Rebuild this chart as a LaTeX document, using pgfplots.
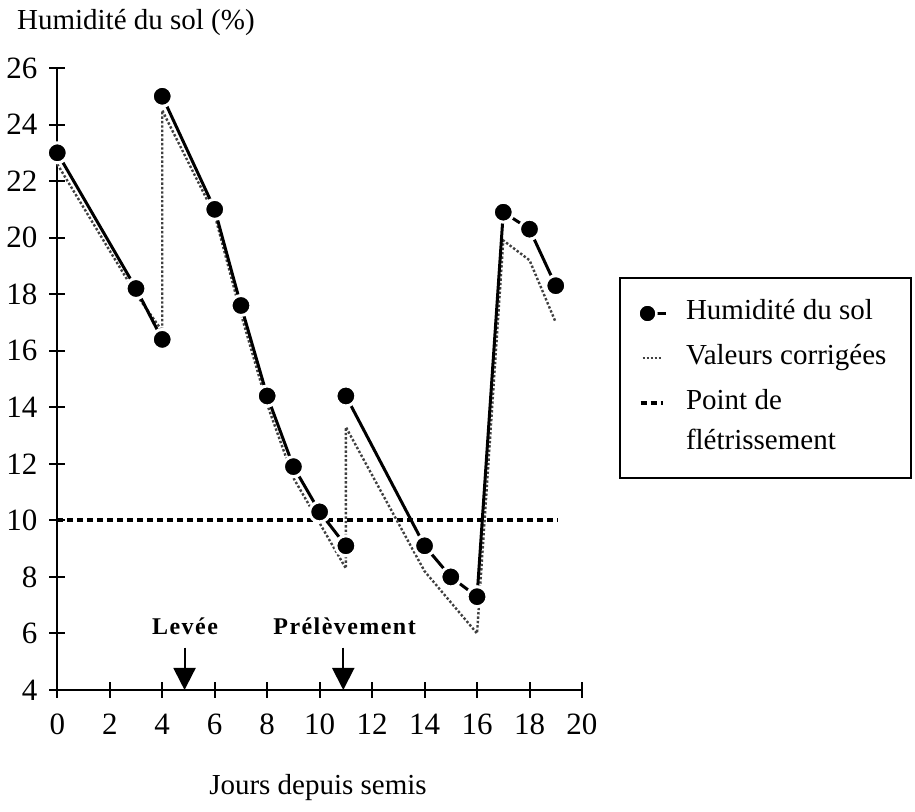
\documentclass[border=0pt]{standalone}
\usepackage{fontspec}
\setmainfont{Liberation Serif}
\newfontfamily\annot[LetterSpace=6]{Liberation Serif}
\usepackage{pgfplots}
\pgfplotsset{compat=1.18}
\usetikzlibrary{arrows.meta}

\newcommand{\txt}{\fontsize{14.5}{20}\selectfont}
\newcommand{\ticktxt}{\fontsize{15.5}{18}\selectfont}

\pgfplotsset{
  humimg/.style={legend image code/.code={%
      \draw[##1,mark=none] (0pt,0pt) -- (9pt,0pt);
      \draw[##1] plot coordinates {(0pt,0pt)};}},
  dotimg/.style={legend image code/.code={%
      \draw[##1] (-2.5pt,0pt) -- (7.5pt,0pt);}},
  dashimg/.style={legend image code/.code={%
      \draw[##1] (-3.5pt,0pt) -- (7.5pt,0pt);}},
}

\begin{document}
\begin{tikzpicture}
\path[use as bounding box] (-28.65pt,-61pt) rectangle (428.85pt,345pt);
\begin{axis}[
  at={(0pt,0pt)}, anchor=south west,
  scale only axis, width=262.35pt, height=311pt,
  xmin=0, xmax=20, ymin=4, ymax=26,
  axis x line*=bottom, axis y line*=left,
  xtick={0,2,...,20}, ytick={4,6,...,26},
  tick align=center, major tick length=8pt,
  axis line style={line width=1pt},
  every tick/.style={black, line width=1pt},
  tick label style={font=\ticktxt},
  /pgf/number format/assume math mode=true,
  xticklabel style={yshift=-4.6pt},
  yticklabel style={xshift=-2.4pt},
  clip=false,
  legend cell align=left,
  legend style={draw=none, fill=none, inner sep=0pt, outer sep=0pt,
    at={(1.1077,0.627)}, anchor=north west, font=\txt,
    row sep=9pt, column sep=9.5pt,
    nodes={inner sep=0pt, text height=10pt, text depth=3.5pt}},
]
% wilting point
\addplot[forget plot, black, line width=2pt, dash pattern=on 3pt off 2pt]
  coordinates {(0,10) (19.1,10)};
% corrected values
\addplot[forget plot, black!75, line width=1.2pt, densely dotted]
  coordinates {(0,22.6) (3,18.0) (4,16.7) (4,24.5) (6,20.8) (7,17.3) (8,14.1)
               (9,11.5) (10,9.9) (11,8.3) (11,13.3) (14,8.2) (15,7.1) (16,6.0)
               (17,19.9) (18,19.2) (19,17.0)};
% measured soil moisture
\addplot[forget plot, black, line width=1.5pt, mark=*, mark size=5pt,
         mark options={fill=black, draw=white, line width=1.5pt, solid},
         unbounded coords=jump]
  coordinates {(0,23) (3,18.2) (4,16.4) (4,nan) (4,25) (6,21) (7,17.6) (8,14.4)
               (9,11.9) (10,10.3) (11,9.1) (11,nan) (11,14.4) (14,9.1) (15,8.0)
               (16,7.3) (17,20.9) (18,20.3) (19,18.3)};

\addlegendimage{black, line width=1.5pt, mark=*, mark size=4.5pt,
  mark options={fill=black, draw=white, line width=1.2pt, solid}, humimg}
\addlegendentry{Humidité du sol}
\addlegendimage{black!75, line width=1pt, densely dotted, dotimg}
\addlegendentry{Valeurs corrigées}
\addlegendimage{black, line width=2pt, dash pattern=on 3pt off 2pt, dashimg}
\addlegendentry{\begin{tabular}[t]{@{}l@{}}Point de\\flétrissement\end{tabular}}

% events
\draw[line width=1pt, -{Triangle[width=11pt,length=11pt]}]
  (axis cs:4.85,5.5) -- (axis cs:4.85,4);
\draw[line width=1pt, -{Triangle[width=11pt,length=11pt]}]
  (axis cs:10.9,5.5) -- (axis cs:10.9,4);
\node[anchor=base, font={\annot\bfseries\fontsize{12}{14}\selectfont}]
  at (axis cs:4.87,5.95) {Levée};
\node[anchor=base, font={\annot\bfseries\fontsize{12}{14}\selectfont}]
  at (axis cs:10.95,5.95) {Prélèvement};
\end{axis}
\draw[line width=1pt] (281.35pt,206pt) rectangle (427pt,106pt);
\node[anchor=base west, font=\txt] at (-23.65pt,330.3pt) {Humidité du sol (\%)};
\node[anchor=base, font=\txt] at (130.35pt,-52.5pt) {Jours depuis semis};
\end{tikzpicture}
\end{document}
